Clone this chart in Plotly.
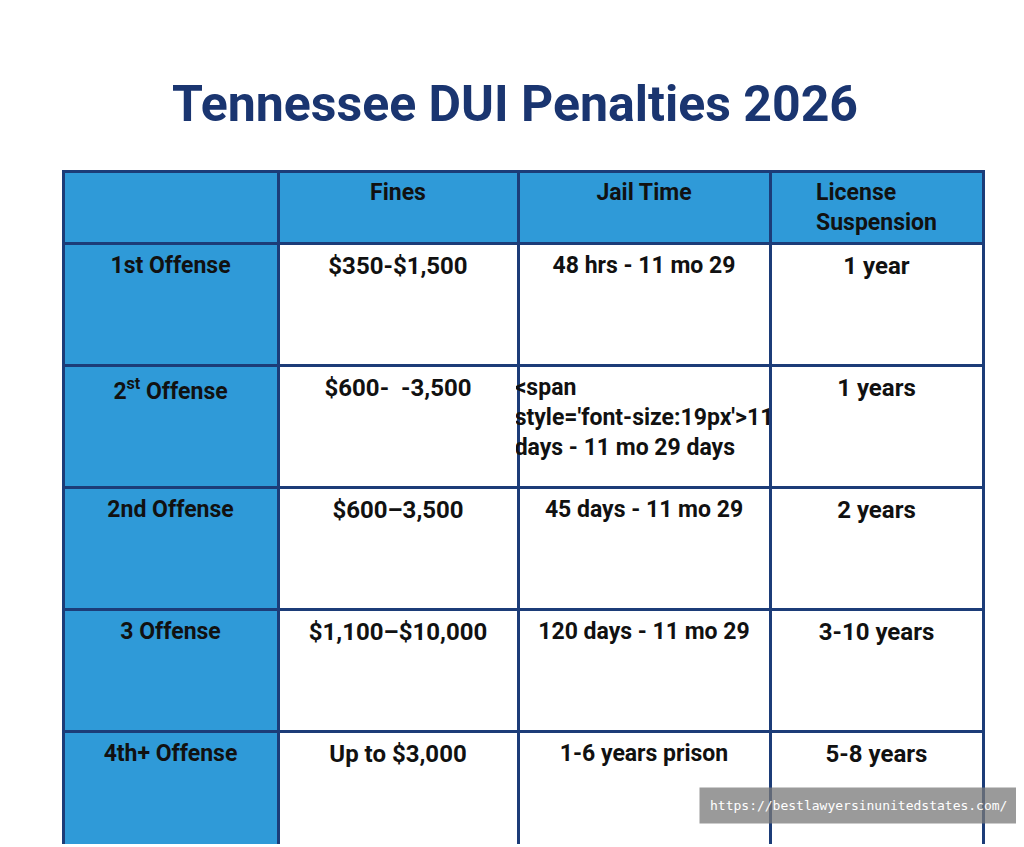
import plotly.graph_objects as go

headers = ["", "Fines", "Jail Time", "License<br>Suspension"]
offenses = ["1st Offense", "2<sup>st</sup> Offense", "2nd Offense", "3 Offense", "4th+ Offense"]
fines = ["$350-$1,500", "$600-  -3,500", "$600–3,500", "$1,100–$10,000", "Up to $3,000"]
jail = ["48 hrs - 11 mo 29", "<span style='font-size:19px'>11 days - 11 mo 29 days</span>",
        "45 days - 11 mo 29", "120 days - 11 mo 29", "1-6 years prison"]
suspension = ["1 year", "1 years", "2 years", "3-10 years", "5-8 years"]

blue = "#2f9ad8"
navy = "#1c3c78"

fig = go.Figure(go.Table(
    domain=dict(x=[55/1024, 975/1024], y=[0.012, 1 - 163/847]),
    columnwidth=[215, 240, 252, 213],
    header=dict(
        values=["<b>%s</b>" % h for h in headers],
        fill_color=blue, line=dict(color=navy, width=3),
        font=dict(family="Roboto", size=23, color="#111"),
        align="center", height=60,
    ),
    cells=dict(
        values=[["<b>%s</b>" % v for v in col] for col in [offenses, fines, jail, suspension]],
        fill_color=[[blue] * 5, ["white"] * 5, ["white"] * 5, ["white"] * 5],
        line=dict(color=navy, width=3),
        font=dict(family="Roboto", size=[23, 24, 23, 24], color="#111"),
        align="center", height=122,
    ),
))

fig.add_annotation(text="<b>Tennessee DUI Penalties 2026</b>", x=0.495, y=1 - 65/847,
                   xref="paper", yref="paper", showarrow=False,
                   font=dict(family="Roboto", size=50, color="#1a3570"))
fig.add_annotation(text="https://bestlawyersinunitedstates.com/", x=1010/1024, y=1 - 816/847,
                   xref="paper", yref="paper", xanchor="right", showarrow=False,
                   bgcolor="rgba(120,120,120,0.75)", borderpad=10,
                   font=dict(family="DejaVu Sans Mono", size=13, color="white"))

fig.update_layout(width=1024, height=847, margin=dict(l=0, r=0, t=0, b=0),
                  paper_bgcolor="white")
fig.write_html("out.html")
